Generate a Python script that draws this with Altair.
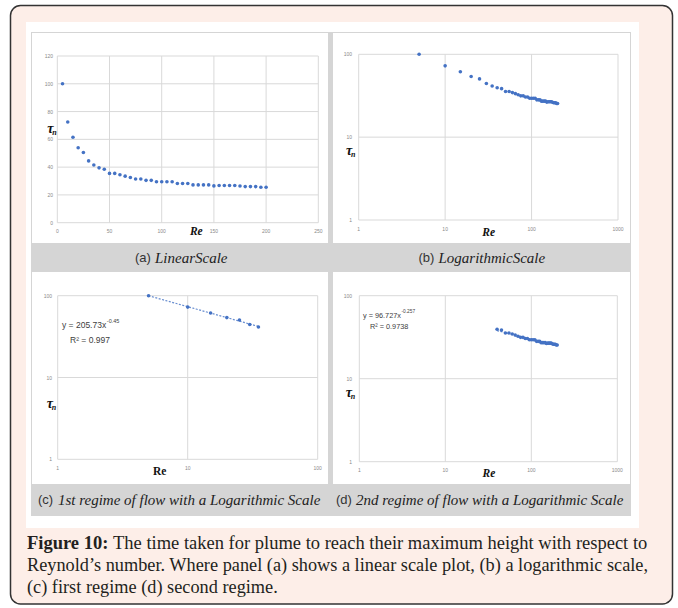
import altair as alt
import pandas as pd

# Reynolds-number sweep and the time tau_n for the plume to reach its maximum height
re_number = [5, 10, 15, 20, 25, 30, 35, 40, 45, 50, 55, 60, 65, 70, 75, 80, 85, 90, 95, 100,
             105, 110, 115, 120, 125, 130, 135, 140, 145, 150, 155, 160, 165, 170, 175, 180,
             185, 190, 195, 200]
tau_n = [100.0, 72.5, 61.5, 54.0, 50.5, 44.5, 41.5, 39.5, 38.5, 35.5,
         35.5, 34.5, 33.5, 32.5, 31.5, 31.5, 30.5, 30.5, 29.5, 29.5,
         29.5, 29.5, 28.2, 28.2, 28.2, 27.2, 27.2, 27.2, 27.2, 26.5,
         26.8, 26.8, 26.8, 26.8, 26.4, 26.0, 26.0, 26.0, 25.5, 25.5]
first_regime_last_re = 35

lin_x_ticks = [0, 50, 100, 150, 200, 250]
lin_y_ticks = [0, 20, 40, 60, 80, 100, 120]
log_x_ticks_wide = [1, 10, 100, 1000]
log_x_ticks_narrow = [1, 10, 100]
log_y_ticks = [1, 10, 100]

panel_titles = [("(a)", "LinearScale"), ("(b)", "LogarithmicScale"),
                ("(c)", "1st regime of flow with a Logarithmic Scale"),
                ("(d)", "2nd regime of flow with a Logarithmic Scale")]
fit_c = ("y = 205.73x", "-0.45", "R\u00b2 = 0.997")
fit_d = ("y = 96.727x", "-0.257", "R\u00b2 = 0.9738")
caption_lead = "Figure 10:"
caption_lines = [
    "The time taken for plume to reach their maximum height with respect to",
    "Reynold\u2019s number. Where panel (a) shows a linear scale plot, (b) a logarithmic scale,",
    "(c) first regime (d) second regime.",
]

BLUE = "#4472c4"
GRID = "#d9d9d9"
TICK = "#8a8a8a"
SANS = "Liberation Sans"
SERIF = "Liberation Serif"

full = pd.DataFrame({"Re": re_number, "tau": tau_n})
regime1 = full[full["Re"] <= first_regime_last_re]
regime2 = full[full["Re"] > first_regime_last_re]
one = pd.DataFrame({"k": [0]})


def box(x0, x1, y0, y1, **style):
    return alt.Chart(one).mark_rect(**style).encode(
        x=alt.value(x0), x2=alt.value(x1), y=alt.value(y0), y2=alt.value(y1))


def label(text, x, y, size, font=SERIF, color="#222222", align="left",
          baseline="middle", weight="normal", style="normal"):
    return alt.Chart(one).mark_text(
        text=text, fontSize=size, font=font, color=color, align=align,
        baseline=baseline, fontWeight=weight, fontStyle=style,
    ).encode(x=alt.value(x), y=alt.value(y))


def panel(df, x_type, x_dom, x_rng, y_type, y_dom, y_rng, x_ticks, y_ticks,
          x_lab_y, y_lab_x, trend=False):
    xs = alt.Scale(type=x_type, domain=x_dom, range=x_rng, nice=False, zero=False)
    ys = alt.Scale(type=y_type, domain=y_dom, range=y_rng, nice=False, zero=False)
    xt = pd.DataFrame({"v": x_ticks, "lab": [str(t) for t in x_ticks]})
    yt = pd.DataFrame({"v": y_ticks, "lab": [str(t) for t in y_ticks]})
    vgrid = alt.Chart(xt).mark_rule(color=GRID, strokeWidth=1).encode(
        x=alt.X("v:Q", scale=xs, axis=None),
        y=alt.value(y_rng[1]), y2=alt.value(y_rng[0]))
    hgrid = alt.Chart(yt).mark_rule(color=GRID, strokeWidth=1).encode(
        y=alt.Y("v:Q", scale=ys, axis=None),
        x=alt.value(x_rng[0]), x2=alt.value(x_rng[1]))
    xlab = alt.Chart(xt).mark_text(fontSize=5, font=SANS, color=TICK).encode(
        x=alt.X("v:Q", scale=xs, axis=None), y=alt.value(x_lab_y), text="lab:N")
    ylab = alt.Chart(yt).mark_text(fontSize=5, font=SANS, color=TICK, align="right").encode(
        y=alt.Y("v:Q", scale=ys, axis=None), x=alt.value(y_lab_x), text="lab:N")
    layers = [vgrid, hgrid, xlab, ylab]
    if trend:
        layers.append(
            alt.Chart(df).transform_regression("Re", "tau", method="pow")
            .mark_line(color=BLUE, strokeWidth=1.2, strokeDash=[2, 1.5], opacity=0.8)
            .encode(x=alt.X("Re:Q", scale=xs, axis=None),
                    y=alt.Y("tau:Q", scale=ys, axis=None)))
    layers.append(
        alt.Chart(df).mark_circle(size=13, color=BLUE, opacity=1).encode(
            x=alt.X("Re:Q", scale=xs, axis=None),
            y=alt.Y("tau:Q", scale=ys, axis=None)))
    return alt.layer(*layers)


# frame, white figure area, grey separators and caption bars, white panels
decor = [
    box(10.5, 672.5, 5.5, 604, fill="#fdeee8", stroke="#333333", strokeWidth=1.5,
        cornerRadius=10),
    box(26, 639, 22, 528, fill="#ffffff"),
    box(31, 631, 32, 516, fill="#d5d5d5"),
    box(32, 328, 33, 243, fill="#ffffff"),
    box(333, 630, 33, 243, fill="#ffffff"),
    box(32, 328, 272, 484, fill="#ffffff"),
    box(333, 630, 272, 484, fill="#ffffff"),
]

pa = panel(full, "linear", [0, 250], [57.3, 318.3], "linear", [0, 120], [222.7, 56],
           lin_x_ticks, lin_y_ticks, 231, 53)
pb = panel(full, "log", [1, 1000], [358.7, 618], "log", [1, 100], [220, 54.3],
           log_x_ticks_wide, log_y_ticks, 228.5, 352)
pc = panel(regime1, "log", [1, 100], [57.7, 317.7], "log", [1, 100], [459.3, 295.7],
           log_x_ticks_narrow, log_y_ticks, 468, 52, trend=True)
pd_ = panel(regime2, "log", [1, 1000], [359.3, 617.3], "log", [1, 100], [461.7, 295.7],
            log_x_ticks_wide, log_y_ticks, 469.5, 352, trend=True)

texts = []
# axis titles: tau_n and Re
for tx, ty in [(47.3, 129), (346, 151), (46.7, 404), (345.7, 393.3)]:
    texts.append(label("\u03c4", tx, ty, 14, weight="bold", style="italic", color="#111111"))
    texts.append(label("n", tx + 5, ty + 3.5, 8, weight="bold", style="italic", color="#111111"))
for rx, ry, st in [(196.3, 232, "italic"), (488.7, 232.7, "italic"),
                   (159.7, 472.3, "normal"), (489, 474.3, "italic")]:
    texts.append(label("Re", rx, ry, 11.5, align="center", weight="bold", style=st,
                       color="#111111"))

# power-law fit annotations (equation, raised exponent, goodness of fit)
texts += [
    label(fit_c[0], 62, 325, 8.5, font=SANS, color="#404040"),
    label(fit_c[1], 106.8, 320.5, 5.5, font=SANS, color="#404040"),
    label(fit_c[2], 70, 339.5, 8.5, font=SANS, color="#404040"),
    label(fit_d[0], 363, 315.7, 7.3, font=SANS, color="#404040"),
    label(fit_d[1], 401.5, 312, 4.8, font=SANS, color="#404040"),
    label(fit_d[2], 370, 326.7, 7.3, font=SANS, color="#404040"),
]

# sub-captions in the grey bars
for (tag, body), (x0, x1, y) in zip(panel_titles, [(135, 155, 258), (418.5, 438.5, 258),
                                                    (38, 58, 500), (336, 356, 500)]):
    texts.append(label(tag, x0, y, 13, font=SANS, color="#333333"))
    texts.append(label(body, x1, y, 15, style="italic", color="#222222"))

# figure caption
texts.append(label(caption_lead, 27, 549, 18.5, weight="bold", baseline="alphabetic",
                   color="#231f20"))
texts.append(label(caption_lines[0], 113, 549, 18.5, baseline="alphabetic", color="#231f20"))
texts.append(label(caption_lines[1], 27, 571, 18.3, baseline="alphabetic", color="#231f20"))
texts.append(label(caption_lines[2], 27, 593, 18.3, baseline="alphabetic", color="#231f20"))

chart = (
    alt.layer(*decor, pa, pb, pc, pd_, *texts)
    .resolve_scale(x="independent", y="independent")
    .properties(width=678, height=608, padding=0, background="#ffffff",
                autosize=alt.AutoSizeParams(type="none"))
    .configure_view(stroke=None)
)

chart.save("out.html", embed_options={"renderer": "svg", "actions": False})
